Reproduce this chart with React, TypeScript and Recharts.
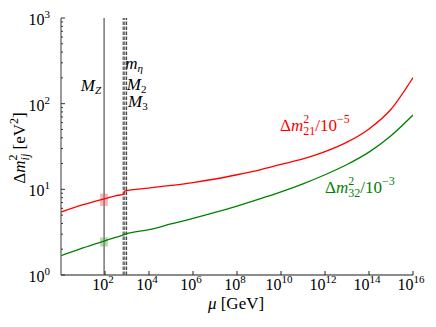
import React from 'react';
import { ComposedChart, Line, XAxis, YAxis, ReferenceLine, ReferenceArea } from 'recharts';

const SERIF = '"Liberation Serif", "DejaVu Serif", serif';

// renormalization scale mu [GeV]
const muGeV = [1, 10, 100, 300, 700, 800, 1e4, 1e5, 1e6, 1e7, 1e8, 1e9, 1e10, 1e11, 1e12, 1e13, 1e14, 1e15, 1e16];
// Delta m^2_21 / 1e-5 eV^2
const dm21 = [5.43, 6.61, 7.8, 8.41, 8.81, 9.62, 10.35, 11.1, 12.0, 13.2, 14.8, 16.8, 19.5, 22.6, 27.5, 35.5, 50.7, 86.1, 202];
// Delta m^2_32 / 1e-3 eV^2
const dm32 = [1.68, 2.07, 2.51, 2.75, 2.94, 2.98, 3.39, 3.94, 4.57, 5.37, 6.38, 7.67, 9.33, 11.6, 14.8, 19.5, 27.2, 42.2, 73.6];

const xTicks = [1e2, 1e4, 1e6, 1e8, 1e10, 1e12, 1e14, 1e16];
const yMajorTicks = [1, 10, 100, 1000];
const yMinorTicks = [2, 3, 4, 5, 6, 7, 8, 9, 20, 30, 40, 50, 60, 70, 80, 90, 200, 300, 400, 500, 600, 700, 800, 900];
const yTicks = [...yMajorTicks, ...yMinorTicks].sort((a, b) => a - b);

// thresholds [GeV]
const mZ = 91.19;
const mEta = 670;
const M2 = 800;
const M3 = 960;

// experimental 1-sigma boxes at M_Z
const boxMu = [60, 135];
const dm21Box = [6.4, 8.9];
const dm32Box = [2.15, 2.75];

const data = muGeV.map((mu, i) => ({ mu, dm21: dm21[i], dm32: dm32[i] }));

const isMajor = (v: number) => Math.abs(Math.log10(v) - Math.round(Math.log10(v))) < 1e-6;
const expOf = (v: number) => String(Math.round(Math.log10(v)));

const BottomTick = (props: any) => {
  const { x, y, payload } = props;
  return (
    <g>
      <line x1={x} x2={x} y1={y} y2={y - 4} stroke="#222" strokeWidth={1} />
      <text x={x - 2} y={y + 15} textAnchor="middle" fontFamily={SERIF} fontSize={16} fill="#000">
        <tspan>10</tspan>
        <tspan fontSize={11} dy={-7}>{expOf(payload.value)}</tspan>
      </text>
    </g>
  );
};

const TopTick = (props: any) => {
  const { x, y } = props;
  return <line x1={x} x2={x} y1={y} y2={y + 4} stroke="#222" strokeWidth={1} />;
};

const LeftTick = (props: any) => {
  const { x, y, payload } = props;
  const major = isMajor(payload.value);
  return (
    <g>
      <line x1={x} x2={x + (major ? 4 : 2)} y1={y} y2={y} stroke="#333" strokeWidth={1} />
      {major && (
        <text x={x - 11} y={y + 7} textAnchor="end" fontFamily={SERIF} fontSize={16} fill="#000">
          <tspan>10</tspan>
          <tspan fontSize={11} dy={-7}>{expOf(payload.value)}</tspan>
        </text>
      )}
    </g>
  );
};

const RightTick = (props: any) => {
  const { x, y, payload } = props;
  const major = isMajor(payload.value);
  return <line x1={x} x2={x - (major ? 4 : 2)} y1={y} y2={y} stroke="#333" strokeWidth={1} />;
};

const ThreshLabel = (props: any) => {
  const { viewBox, main, sub, dx, dy, anchor, italicSub } = props;
  if (!viewBox) return null;
  const x = viewBox.x + dx;
  const y = viewBox.y + dy;
  return (
    <text x={x} y={y} textAnchor={anchor} fontFamily={SERIF} fontSize={17} fill="#000">
      <tspan fontStyle="italic">{main}</tspan>
      <tspan fontSize={11} dy={3} fontStyle={italicSub ? 'italic' : 'normal'}>{sub}</tspan>
    </text>
  );
};

const DmLabel = ({ x, y, color, sub, exp }: any) => (
  <text x={x} y={y} fill={color} fontFamily={SERIF} fontSize={17}>
    <tspan>Δ</tspan>
    <tspan fontStyle="italic">m</tspan>
    <tspan fontSize={12} dy={-8}>2</tspan>
    <tspan fontSize={12} dx={-6} dy={12}>{sub}</tspan>
    <tspan dy={-4}>/10</tspan>
    <tspan fontSize={12} dy={-8}>{exp}</tspan>
  </text>
);

export default function App() {
  return (
    <div style={{ position: 'absolute', left: 0, top: 0, width: 436, height: 327, background: '#fff' }}>
      <ComposedChart width={436} height={327} data={data} margin={{ top: 18, right: 23, bottom: 22, left: 0 }}>
        <XAxis
          xAxisId="b"
          dataKey="mu"
          type="number"
          scale="log"
          domain={[1, 1e16]}
          allowDataOverflow
          ticks={xTicks}
          interval={0}
          height={30}
          tickSize={0}
          tickMargin={0}
          tick={<BottomTick />}
          tickLine={false}
          axisLine={{ stroke: '#666', strokeWidth: 1.3 }}
        />
        <XAxis
          xAxisId="t"
          orientation="top"
          dataKey="mu"
          type="number"
          scale="log"
          domain={[1, 1e16]}
          allowDataOverflow
          ticks={xTicks}
          interval={0}
          height={0}
          tickSize={0}
          tickMargin={0}
          tick={<TopTick />}
          tickLine={false}
          axisLine={{ stroke: '#111', strokeWidth: 1 }}
        />
        <YAxis
          yAxisId="l"
          type="number"
          scale="log"
          domain={[1, 1000]}
          allowDataOverflow
          ticks={yTicks}
          interval={0}
          width={61}
          tickSize={0}
          tickMargin={0}
          tick={<LeftTick />}
          tickLine={false}
          axisLine={{ stroke: '#666', strokeWidth: 1.3 }}
        />
        <YAxis
          yAxisId="r"
          orientation="right"
          type="number"
          scale="log"
          domain={[1, 1000]}
          allowDataOverflow
          ticks={yTicks}
          interval={0}
          width={0}
          tickSize={0}
          tickMargin={0}
          tick={<RightTick />}
          tickLine={false}
          axisLine={{ stroke: '#111', strokeWidth: 1 }}
        />
        <ReferenceArea xAxisId="b" yAxisId="l" x1={boxMu[0]} x2={boxMu[1]} y1={dm21Box[0]} y2={dm21Box[1]} fill="#ff0000" fillOpacity={0.3} stroke="none" ifOverflow="hidden" />
        <ReferenceArea xAxisId="b" yAxisId="l" x1={boxMu[0]} x2={boxMu[1]} y1={dm32Box[0]} y2={dm32Box[1]} fill="#008000" fillOpacity={0.3} stroke="none" ifOverflow="hidden" />
        <ReferenceLine
          xAxisId="b"
          yAxisId="l"
          x={mZ}
          stroke="#808080"
          strokeWidth={1.6}
          label={<ThreshLabel main="M" sub="Z" dx={-3} dy={73} anchor="end" italicSub />}
        />
        <ReferenceLine
          xAxisId="b"
          yAxisId="l"
          x={mEta}
          stroke="#333"
          strokeWidth={1}
          strokeDasharray="3.5 1.5"
          label={<ThreshLabel main="m" sub="η" dx={2} dy={51} anchor="start" italicSub />}
        />
        <ReferenceLine
          xAxisId="b"
          yAxisId="l"
          x={M2}
          stroke="#333"
          strokeWidth={1}
          strokeDasharray="3.5 1.5"
          label={<ThreshLabel main="M" sub="2" dx={2} dy={72} anchor="start" />}
        />
        <ReferenceLine
          xAxisId="b"
          yAxisId="l"
          x={M3}
          stroke="#333"
          strokeWidth={1}
          strokeDasharray="3.5 1.5"
          label={<ThreshLabel main="M" sub="3" dx={1.5} dy={89} anchor="start" />}
        />
        <Line xAxisId="b" yAxisId="l" dataKey="dm21" type="monotone" stroke="#ff0000" strokeWidth={1.3} dot={false} isAnimationActive={false} />
        <Line xAxisId="b" yAxisId="l" dataKey="dm32" type="monotone" stroke="#008000" strokeWidth={1.3} dot={false} isAnimationActive={false} />
      </ComposedChart>
      <svg width={436} height={327} style={{ position: 'absolute', left: 0, top: 0, pointerEvents: 'none' }}>
        <DmLabel x={280} y={131} color="#ff0000" sub="21" exp="−5" />
        <DmLabel x={325} y={193} color="#008000" sub="32" exp="−3" />
        <text x={236} y={309} textAnchor="middle" fontFamily={SERIF} fontSize={17} fill="#000">
          <tspan fontStyle="italic">μ</tspan>
          <tspan> [GeV]</tspan>
        </text>
        <text x={0} y={0} transform="translate(25,148) rotate(-90)" textAnchor="middle" fontFamily={SERIF} fontSize={17} fill="#000">
          <tspan>Δ</tspan>
          <tspan fontStyle="italic">m</tspan>
          <tspan fontSize={12} dy={-8}>2</tspan>
          <tspan fontSize={12} dx={-6} dy={12} fontStyle="italic">ij</tspan>
          <tspan dy={-4}> [eV</tspan>
          <tspan fontSize={12} dy={-7}>2</tspan>
          <tspan dy={7}>]</tspan>
        </text>
      </svg>
    </div>
  );
}
